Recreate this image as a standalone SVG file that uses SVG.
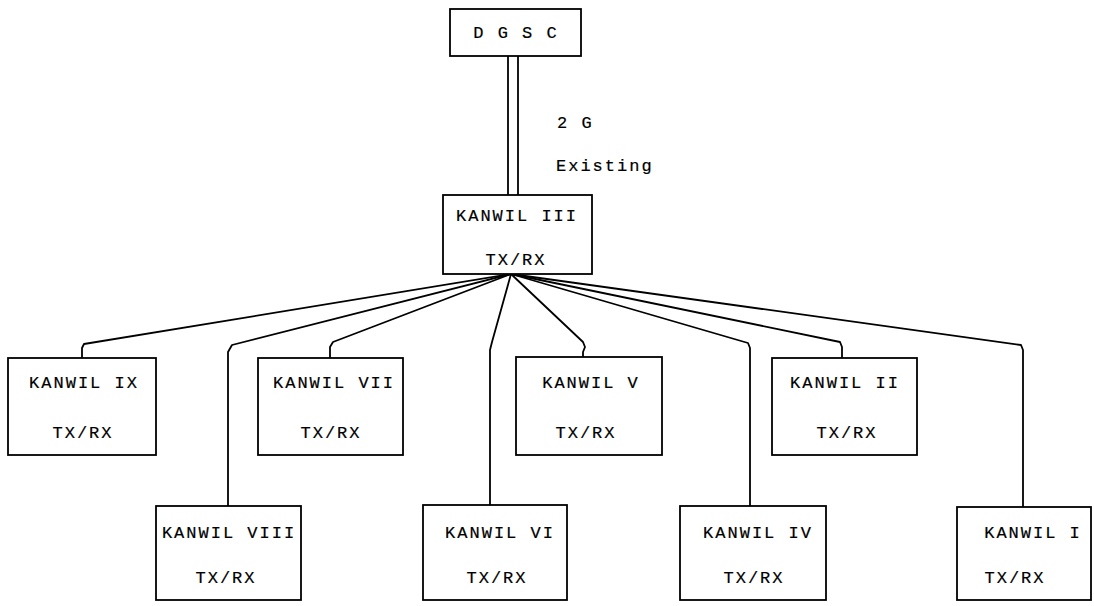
<svg xmlns="http://www.w3.org/2000/svg" width="1094" height="606" viewBox="0 0 1094 606">
<style>
.box{fill:#fff;stroke:#000;stroke-width:1.8}
.t{font-family:"Liberation Mono","DejaVu Sans Mono",monospace;font-size:17px;letter-spacing:2px;fill:#000;text-anchor:middle;stroke:#000;stroke-width:0.2}
.tl{font-family:"Liberation Mono","DejaVu Sans Mono",monospace;font-size:17px;letter-spacing:2px;fill:#000;stroke:#000;stroke-width:0.2}
.c{fill:none;stroke:#000;stroke-width:1.8;stroke-linejoin:round}
</style>
<rect width="1094" height="606" fill="#fff"/>
<g id="connectors">
<line class="c" x1="508" y1="56" x2="508" y2="195"/>
<line class="c" x1="518" y1="56" x2="518" y2="195"/>
<path class="c" d="M511,274 L84,344 L82,348 L82,358"/>
<path class="c" d="M511,274 L232,345 L228,352 L228,506"/>
<path class="c" d="M511,274 L333,342 L330,347 L330,358"/>
<path class="c" d="M511,274 L492,342 L490,350 L490,505"/>
<path class="c" d="M511,274 L583,342 L585,347 L583,352 L583,357"/>
<path class="c" d="M511,274 L748,343 L750,348 L750,506"/>
<path class="c" d="M511,274 L840,342 L842,347 L842,358"/>
<path class="c" d="M511,274 L1021,345 L1023,350 L1023,507"/>
</g>
<g id="link-label">
<text class="tl" x="557" y="128">2 G</text>
<text class="tl" x="556" y="171">Existing</text>
</g>
<g id="dgsc">
<rect class="box" x="450" y="9" width="131" height="47"/>
<text class="t" x="516" y="38">D G S C</text>
</g>
<g id="kanwil3">
<rect class="box" x="443" y="195" width="149" height="79"/>
<text class="t" x="517" y="221">KANWIL III</text>
<text class="t" x="516" y="265">TX/RX</text>
</g>
<g id="kanwil9">
<rect class="box" x="8" y="358" width="148" height="97"/>
<text class="t" x="84" y="388">KANWIL IX</text>
<text class="t" x="83" y="438">TX/RX</text>
</g>
<g id="kanwil7">
<rect class="box" x="258" y="358" width="145" height="97"/>
<text class="t" x="334" y="388">KANWIL VII</text>
<text class="t" x="331" y="438">TX/RX</text>
</g>
<g id="kanwil5">
<rect class="box" x="516" y="357" width="146" height="98"/>
<text class="t" x="591" y="388">KANWIL V</text>
<text class="t" x="586" y="438">TX/RX</text>
</g>
<g id="kanwil2">
<rect class="box" x="772" y="358" width="145" height="97"/>
<text class="t" x="845" y="388">KANWIL II</text>
<text class="t" x="847" y="438">TX/RX</text>
</g>
<g id="kanwil8">
<rect class="box" x="156" y="506" width="145" height="94"/>
<text class="t" x="229" y="538">KANWIL VIII</text>
<text class="t" x="226" y="583">TX/RX</text>
</g>
<g id="kanwil6">
<rect class="box" x="423" y="505" width="144" height="95"/>
<text class="t" x="500" y="538">KANWIL VI</text>
<text class="t" x="497" y="583">TX/RX</text>
</g>
<g id="kanwil4">
<rect class="box" x="680" y="506" width="146" height="94"/>
<text class="t" x="758" y="538">KANWIL IV</text>
<text class="t" x="754" y="583">TX/RX</text>
</g>
<g id="kanwil1">
<rect class="box" x="957" y="507" width="134" height="93"/>
<text class="t" x="1033" y="538">KANWIL I</text>
<text class="t" x="1015" y="583">TX/RX</text>
</g>
</svg>
